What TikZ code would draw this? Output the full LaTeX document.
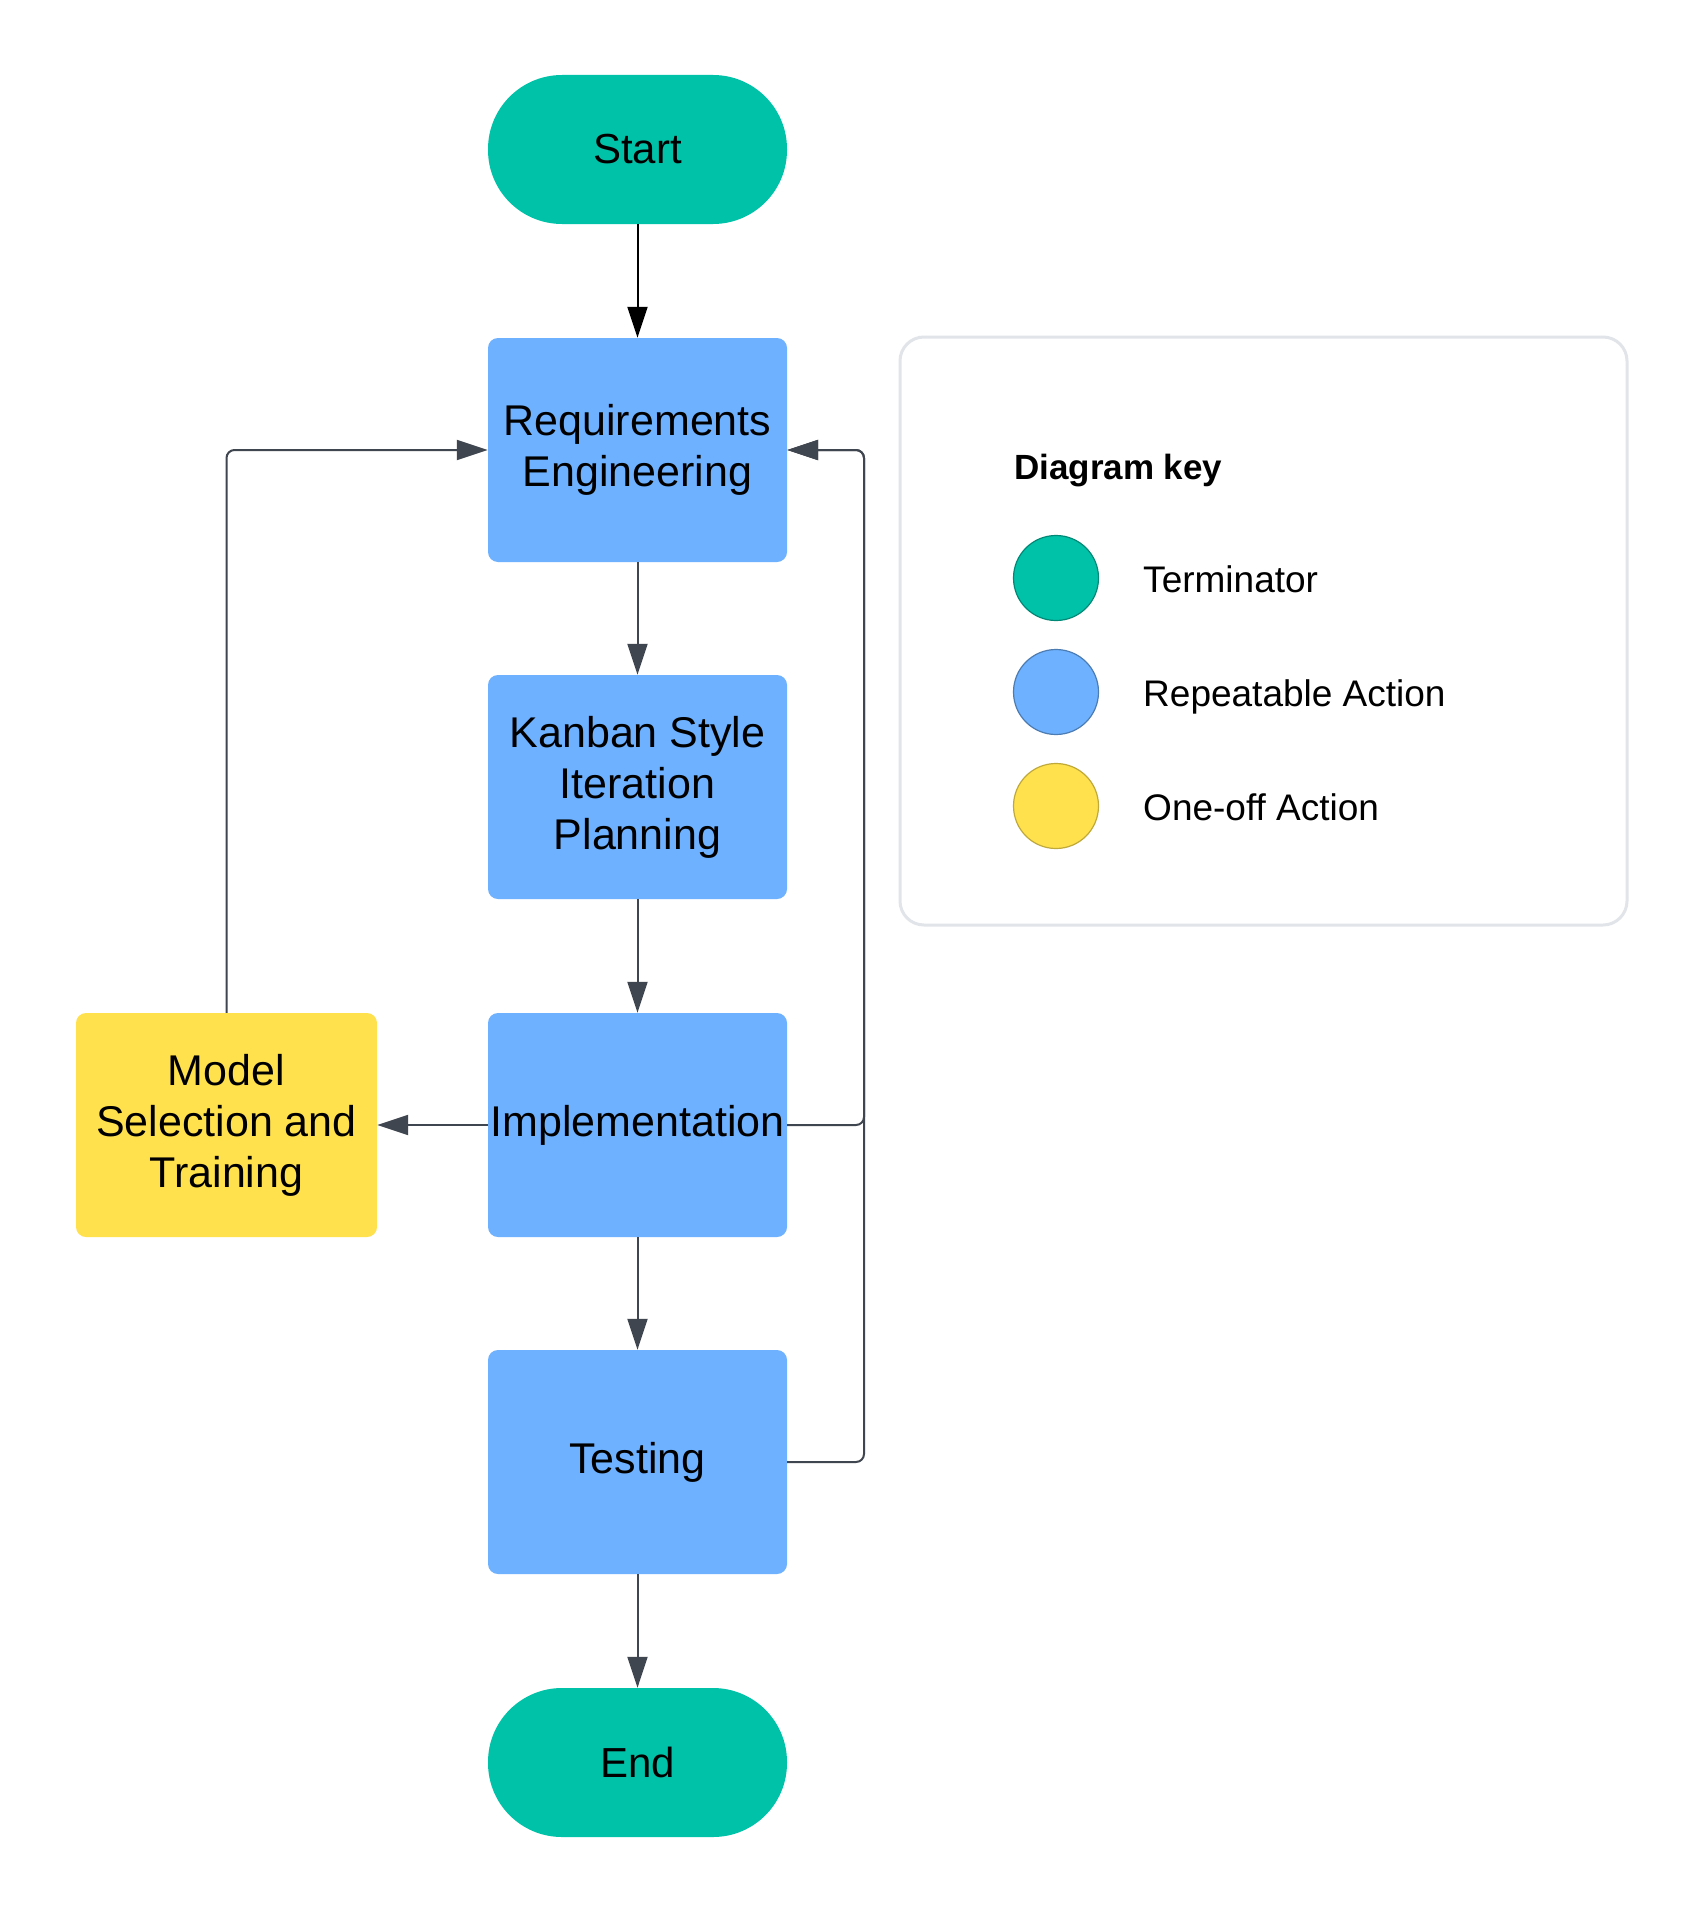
\documentclass[tikz,border=0pt]{standalone}
\usepackage{fontspec}
\setmainfont{Liberation Sans}
\usetikzlibrary{arrows.meta}
\definecolor{termc}{HTML}{00C2A8}
\definecolor{repc}{HTML}{6DB1FF}
\definecolor{onec}{HTML}{FFE14D}
\definecolor{linec}{HTML}{40464F}
\definecolor{keyborder}{HTML}{E1E4E8}
\tikzset{
  stepbox/.style={rectangle, rounded corners=10pt, minimum width=299pt, minimum height=224pt, inner sep=0pt, align=center, font=\fontsize{43}{51}\selectfont},
  actbox/.style={stepbox, fill=repc},
  onebox/.style={stepbox, fill=onec, minimum width=301pt},
  termbox/.style={rectangle, rounded corners=74pt, fill=termc, minimum width=299pt, minimum height=149pt, inner sep=0pt, font=\fontsize{42}{50}\selectfont},
  conn/.style={draw=linec, line width=2pt, -{Triangle[length=31pt,width=20pt]}, rounded corners=8pt},
  keydot/.style={circle, minimum size=85pt, inner sep=0pt, line width=1.2pt},
  keylabel/.style={anchor=base west, inner sep=0pt, font=\fontsize{37}{44}\selectfont}
}
\begin{document}
\begin{tikzpicture}[x=1pt,y=-1pt]
\useasboundingbox[fill=white] (0,0) rectangle (1703,1913);

% nodes
\node[termbox] (start) at (637.5,149.5) {Start};
\node[actbox] (req) at (637.5,450) {Requirements\\Engineering};
\node[actbox] (kan) at (637.5,787) {Kanban Style\\Iteration\\Planning};
\node[actbox] (impl) at (637.5,1125) {Implementation};
\node[actbox] (test) at (637.5,1462) {Testing};
\node[termbox] (end) at (637.5,1762.5) {End};
\node[onebox] (model) at (226.5,1125) {Model\\Selection and\\Training};

% connectors
\draw[conn, draw=black] (start.south) -- (req.north);
\draw[conn] (req.south) -- (kan.north);
\draw[conn] (kan.south) -- (impl.north);
\draw[conn] (impl.south) -- (test.north);
\draw[conn] (test.south) -- (end.north);
\draw[conn] (impl.west) -- (model.east);
\coordinate (rl) at (864,0);
\draw[conn] (model.north) |- (req.west);
\draw[conn] (impl.east) -| (rl |- req.east) -- (req.east);
\draw[conn] (test.east) -| (rl |- req.east) -- (req.east);

% legend
\draw[keyborder, line width=3pt, rounded corners=24pt] (900,337) rectangle (1627,925);
\node[anchor=base west, inner sep=0pt, font=\fontsize{35}{42}\selectfont\bfseries] (keytitle) at (1014,479) {Diagram key};
\node[keydot, fill=termc, draw=termc!70!black] (k1) at (1056,578) {};
\node[keydot, fill=repc, draw=repc!70!black] (k2) at (1056,692) {};
\node[keydot, fill=onec, draw=onec!75!black] (k3) at (1056,806) {};
\node[keylabel] (l1) at (1143,592) {Terminator};
\node[keylabel] (l2) at (1143,706) {Repeatable Action};
\node[keylabel] (l3) at (1143,820) {One-off Action};
\end{tikzpicture}
\end{document}
